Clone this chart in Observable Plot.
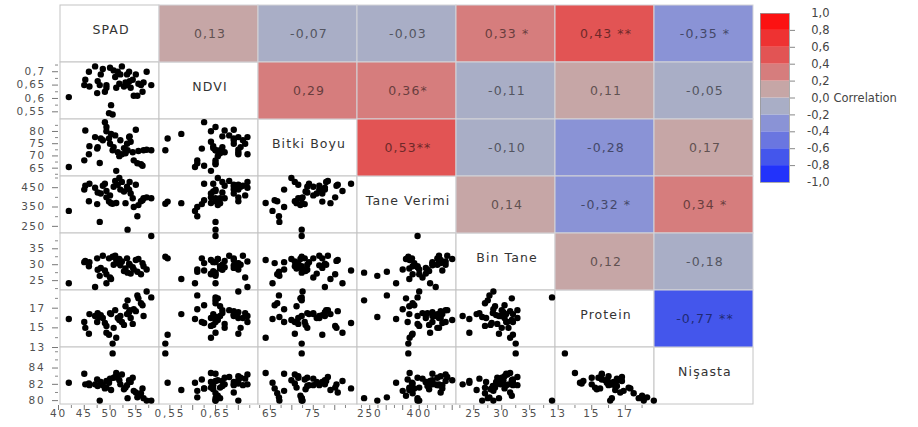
<!DOCTYPE html>
<html>
<head>
<meta charset="utf-8">
<script src="https://cdn.jsdelivr.net/npm/d3@7"></script>
<script src="https://cdn.jsdelivr.net/npm/@observablehq/plot@0.6"></script>
<style>
  body { margin: 0; background: #fff; }
  #chart { position: relative; width: 918px; height: 427px; overflow: hidden; background: #fff; }
  #chart svg { position: absolute; max-width: none; overflow: visible; }
</style>
</head>
<body>
<div id="chart"></div>
<script>
// ---------------- data ----------------
const variables = ["SPAD", "NDVI", "Bitki Boyu", "Tane Verimi", "Bin Tane", "Protein", "Nişasta"];

const spad       = [42.0,45.0,45.2,45.9,46.0,47.1,47.6,48.0,48.2,48.6,49.0,49.3,49.3,49.8,50.0,50.5,50.7,51.0,51.2,51.5,51.8,52.0,52.3,52.7,53.0,53.3,53.4,53.7,54.0,54.4,54.6,55.0,55.3,55.5,56.0,56.3,56.5,57.1,58.0,47.5,50.2,53.8];
const ndvi       = [0.605,0.650,0.670,0.700,0.645,0.720,0.665,0.650,0.690,0.710,0.625,0.650,0.640,0.545,0.715,0.540,0.705,0.680,0.640,0.700,0.655,0.690,0.720,0.645,0.660,0.690,0.650,0.700,0.640,0.670,0.610,0.690,0.610,0.655,0.650,0.625,0.660,0.700,0.650,0.620,0.575,0.665];
const bitkiBoyu  = [65.5,68.2,80.4,70.7,74.0,77.7,73.6,67.1,77.1,76.4,83.8,81.8,80.1,77.1,75.0,72.3,73.6,78.4,63.9,71.5,69.9,76.4,70.7,73.2,71.1,75.0,72.3,77.7,75.8,71.5,68.2,80.7,67.0,72.0,66.6,66.0,72.3,72.5,72.3,73.0,79.0,78.0];
const taneVerimi = [330,440,460,380,470,450,425,273,420,460,470,433,400,378,410,367,455,485,371,465,500,440,480,430,370,455,233,440,420,395,350,465,302,360,380,385,395,400,395,365,370,480];
const binTane    = [24.2,30.8,31.2,29.5,30.8,23.0,28.4,26.5,29.0,32.8,28.2,24.2,27.0,32.0,26.0,32.5,30.0,32.8,31.5,30.5,31.8,29.8,31.0,28.0,28.8,32.0,27.5,30.3,27.2,29.2,28.5,31.5,27.8,31.8,27.0,30.5,29.5,28.5,39.0,32.0,25.5,30.0];
const protein    = [15.9,15.6,15.0,14.4,16.4,16.2,16.5,16.1,16.3,16.0,15.5,14.5,15.2,14.3,16.5,13.4,15.0,16.8,14.0,16.0,15.8,16.2,15.6,15.3,17.2,16.4,17.8,16.6,16.0,15.4,16.9,16.7,18.3,18.0,17.5,17.3,16.2,18.7,18.1,15.6,16.4,16.8];
const nisasta    = [82.2,83.3,82.0,82.1,81.9,82.0,81.8,80.0,82.3,81.9,81.5,82.4,81.6,82.2,82.7,85.8,82.8,82.9,83.4,83.0,82.5,82.0,83.2,81.4,81.6,81.9,80.3,82.5,82.3,82.8,81.2,81.0,80.4,80.6,80.9,81.5,80.3,80.0,80.0,82.6,81.3,82.4];

// axis domains and tick labels
const domains = [[40, 59.4], [0.525, 0.742], [62, 85.3], [213, 513], [21.9, 39.8], [12.9, 18.8], [79.4, 86.4]];
const yTickValues  = [[40,45,50,55], [0.55,0.6,0.65,0.7], [65,70,75,80], [250,350,450], [25,30,35], [13,15,17], [80,82,84]];
const yMinorTicks  = [[42.5,47.5,52.5,57.5], [0.575,0.625,0.675,0.725], [62.5,67.5,72.5,77.5,82.5], [300,400,500], [22.5,27.5,32.5,37.5], [14,16,18], [81,83,85,86]];
const xTickValues  = [[40,45,50,55], [0.55,0.6,0.65,0.7], [65,70,75,80], [250,300,350,400,450,500], [25,30,35], [13,15,17], [80,83,86]];
const xTickLabels  = [[40,45,50,55], [0.55,0.65], [65,75], [250,400], [25,30,35], [13,15,17], [80,83,86]];
const xMinorTicks  = [[42.5,47.5,52.5,57.5], [0.575,0.625,0.675,0.725], [62.5,67.5,72.5,77.5,82.5], [225,275,325,375,425,475], [22.5,27.5,32.5,37.5], [14,16,18], [81,82,84,85]];

// correlations, upper triangle in row order
const corrValues = [0.13,-0.07,-0.03,0.33,0.43,-0.35, 0.29,0.36,-0.11,0.11,-0.05, 0.53,-0.10,-0.28,0.17, 0.14,-0.32,0.34, 0.12,-0.18, -0.77];
const corrStars  = ["","",""," *"," **"," *", "","*","","","", "**","","","", ""," *"," *", "","", " **"];

// colour legend
const legendBreaks = [-1,-0.8,-0.6,-0.4,-0.2,0,0.2,0.4,0.6,0.8,1];
const legendColors = ["#2233fb","#4456ec","#6a76e0","#8a93d6","#a9aec6","#c6a6a6","#d67d7d","#e25454","#ee3232","#fc1212"];
const legendTitle = "Correlation";

// ---------------- layout ----------------
const W = 918, H = 427;
const gx0 = 58, gx1 = 755, gy0 = 3, gy1 = 405;
const n = variables.length;
const bw = (gx1 - gx0) / n, bh = (gy1 - gy0) / n;
const font = '"DejaVu Sans", "Noto Sans", sans-serif';
const fmt = d => String(d).replace(".", ",");
const fmtR = (r, s) => r.toFixed(2).replace(".", ",") + s;
const chart = document.getElementById("chart");

const colorScale = {type: "threshold", domain: legendBreaks.slice(1, -1), range: legendColors};
const binOf = r => d3.bisectRight(legendBreaks.slice(1, -1), r);

// grid cells
const upper = [], blank = [], diag = [];
let k = 0;
for (let i = 0; i < n; i++) {
  for (let j = 0; j < n; j++) {
    const c = {row: variables[i], col: variables[j]};
    if (j > i) { c.r = corrValues[k]; c.label = fmtR(corrValues[k], corrStars[k]); c.bin = binOf(corrValues[k]); k++; upper.push(c); }
    else { blank.push(c); if (i === j) diag.push(c); }
  }
}

const gridMarks = [
  Plot.cell(blank, {x: "col", y: "row", fill: "white", stroke: "#c4c4c4", inset: 0}),
  Plot.cell(upper, {x: "col", y: "row", fill: "r", stroke: "#d4d4d8", inset: 0})
];
for (let b = 0; b < legendColors.length; b++) {
  const sub = upper.filter(d => d.bin === b);
  if (!sub.length) continue;
  gridMarks.push(Plot.text(sub, {x: "col", y: "row", text: "label", dx: 1, fill: d3.color(legendColors[b]).darker(2).formatHex(), fontSize: 12.5}));
}
gridMarks.push(Plot.text(diag, {x: "col", y: "row", text: "col", dy: -4, dx: 1, fill: "#333", fontSize: 12.5}));

const grid = Plot.plot({
  width: W, height: H,
  marginLeft: gx0, marginRight: W - gx1, marginTop: gy0, marginBottom: H - gy1,
  x: {type: "band", domain: variables, padding: 0, axis: null},
  y: {type: "band", domain: variables, padding: 0, axis: null},
  color: colorScale,
  style: {fontFamily: font, fontSize: "12.5px", letterSpacing: "1.1px", background: "transparent"},
  marks: gridMarks
});
grid.style.left = "0px"; grid.style.top = "0px";
chart.appendChild(grid);

// scatter cells
const series = [spad, ndvi, bitkiBoyu, taneVerimi, binTane, protein, nisasta];
const idx = d3.range(spad.length);
for (let i = 1; i < n; i++) {
  for (let j = 0; j < i; j++) {
    const x0 = Math.round(gx0 + j * bw), x1 = Math.round(gx0 + (j + 1) * bw);
    const y0 = Math.round(gy0 + i * bh), y1 = Math.round(gy0 + (i + 1) * bh);
    const isLeft = j === 0, isBottom = i === n - 1;
    const mL = isLeft ? x0 : 0, mB = isBottom ? H - y1 : 0;
    const marks = [
      Plot.dot(idx, {x: q => series[j][q], y: q => series[i][q], r: 3.2, fill: "#000", stroke: "none"})
    ];
    if (isLeft) {
      marks.push(Plot.axisY({ticks: yTickValues[i], tickFormat: fmt, tickSize: 6, tickPadding: 7, stroke: "#777", fill: "#505050", fontSize: 10.5}));
      marks.push(Plot.axisY({ticks: yMinorTicks[i], tickFormat: () => "", tickSize: 3, stroke: "#888"}));
    }
    if (isBottom) {
      const labs = xTickLabels[j];
      marks.push(Plot.axisX({ticks: xTickValues[j], tickFormat: d => labs.includes(d) ? fmt(d) : "", tickSize: 5, tickPadding: -1, stroke: "#777", fill: "#505050", fontSize: 10.5}));
      marks.push(Plot.axisX({ticks: xMinorTicks[j], tickFormat: () => "", tickSize: 3, stroke: "#888"}));
    }
    const svg = Plot.plot({
      width: (x1 - x0) + mL, height: (y1 - y0) + mB,
      marginLeft: mL, marginRight: 0, marginTop: 0, marginBottom: mB,
      x: {domain: domains[j], axis: null},
      y: {domain: domains[i], axis: null},
      style: {fontFamily: font, fontSize: "10.5px", letterSpacing: isBottom ? "1.8px" : "1.4px", background: "transparent", overflow: "visible"},
      marks
    });
    svg.style.left = (x0 - mL) + "px";
    svg.style.top = y0 + "px";
    chart.appendChild(svg);
  }
}

// legend
const bins = legendColors.map((c, b) => ({lo: legendBreaks[b], hi: legendBreaks[b + 1], mid: (legendBreaks[b] + legendBreaks[b + 1]) / 2}));
const legW = 158, legBar = 29, legTop = 13, legBottom = 182, legH = 200;
const legend = Plot.plot({
  width: legW, height: legH,
  marginLeft: 0, marginRight: legW - legBar, marginTop: legTop, marginBottom: legH - legBottom,
  x: {domain: [0, 1], axis: null},
  y: {domain: [-1, 1], axis: null},
  color: colorScale,
  style: {fontFamily: font, fontSize: "11.5px", background: "transparent", overflow: "visible"},
  marks: [
    Plot.rect(bins, {x1: 0, x2: 1, y1: "lo", y2: "hi", fill: "mid"}),
    Plot.frame({stroke: "#9a9a9a", strokeWidth: 0.8}),
    Plot.axisY({anchor: "right", ticks: legendBreaks.slice(1, -1), tickFormat: () => "", tickSize: 5, stroke: "#888"}),
    Plot.text(legendBreaks, {y: d => d, text: d => d.toFixed(1).replace(".", ","), frameAnchor: "right", textAnchor: "end", dx: 40, fill: "#444", fontSize: 11.5}),
    Plot.text([0], {y: d => d, text: () => legendTitle, frameAnchor: "right", textAnchor: "start", dx: 44, fill: "#444", fontSize: 11.5, letterSpacing: 1.3})
  ]
});
legend.style.left = "760px"; legend.style.top = "0px";
chart.appendChild(legend);
</script>
</body>
</html>
